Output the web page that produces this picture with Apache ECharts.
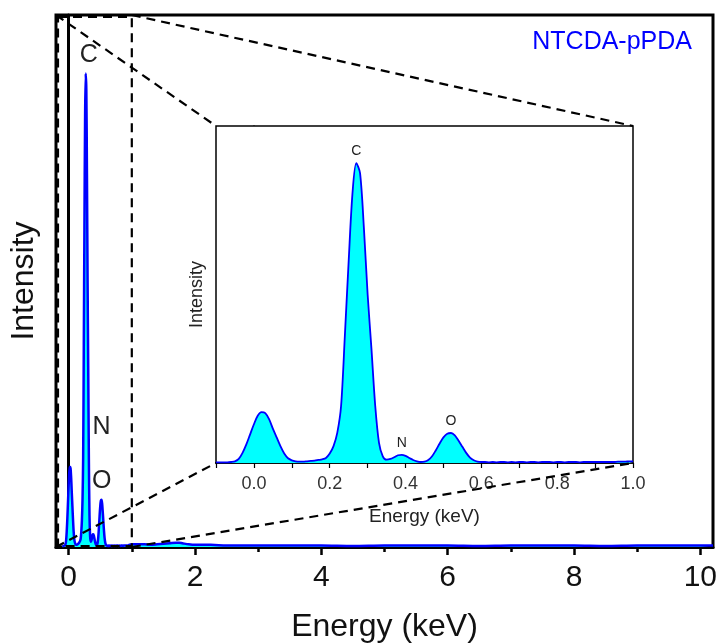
<!DOCTYPE html>
<html>

<head>
  <meta charset="UTF-8">
  <title>NTCDA-pPDA EDS</title>
  <script src="https://cdn.jsdelivr.net/npm/echarts@6/dist/echarts.min.js"></script>
</head>

<body style="margin:0;background:#fff">
  <div id="main" style="width: 717px;height:643px;"></div>
  <script type="text/javascript">
    // low-energy part of the spectrum (also shown in the inset)
    var energy = [-0.10, -0.09, -0.08, -0.07, -0.06, -0.05, -0.04, -0.03, -0.02, -0.01,
      0.00, 0.01, 0.02, 0.03, 0.04, 0.05, 0.06, 0.07, 0.08, 0.09,
      0.10, 0.11, 0.12, 0.13, 0.14, 0.15, 0.16, 0.17, 0.18, 0.19,
      0.20, 0.21, 0.22, 0.23, 0.24, 0.25, 0.26, 0.27, 0.28, 0.29,
      0.30, 0.31, 0.32, 0.33, 0.34, 0.35, 0.36, 0.37, 0.38, 0.39,
      0.40, 0.41, 0.42, 0.43, 0.44, 0.45, 0.46, 0.47, 0.48, 0.49,
      0.50, 0.51, 0.52, 0.53, 0.54, 0.55, 0.56, 0.57, 0.58, 0.59,
      0.60, 0.61, 0.62, 0.63, 0.64, 0.65, 0.66, 0.67, 0.68, 0.69,
      0.70, 0.71, 0.72, 0.73, 0.74, 0.75, 0.76, 0.77, 0.78, 0.79,
      0.80, 0.81, 0.82, 0.83, 0.84, 0.85, 0.86, 0.87, 0.88, 0.89,
      0.90, 0.91, 0.92, 0.93, 0.94, 0.95, 0.96, 0.97, 0.98, 0.99, 1.00];
    var intensity = [0.2, 0.2, 0.2, 0.2, 0.3, 0.5, 1.2, 3.0, 5.5, 8.5,
      11.5, 14.0, 15.1, 14.8, 13.0, 10.2, 7.6, 5.0, 2.8, 1.4,
      0.8, 0.5, 0.4, 0.4, 0.5, 0.6, 0.7, 0.9, 1.1, 1.5,
      2.8, 5.0, 9.0, 17, 38, 60, 80, 89, 86, 70,
      50, 34, 17, 6.0, 2.0, 1.0, 1.2, 1.7, 2.3, 2.4,
      2.1, 1.5, 0.9, 0.5, 0.3, 0.4, 0.9, 2.0, 3.8, 5.8,
      7.6, 8.7, 8.9, 8.2, 6.6, 4.8, 3.0, 1.6, 0.8, 0.4,
      0.3, 0.3, 0.2, 0.3, 0.2, 0.3, 0.3, 0.2, 0.3, 0.2,
      0.3, 0.3, 0.2, 0.3, 0.3, 0.2, 0.3, 0.3, 0.3, 0.2,
      0.3, 0.3, 0.2, 0.3, 0.3, 0.3, 0.2, 0.3, 0.3, 0.3,
      0.3, 0.3, 0.3, 0.3, 0.3, 0.3, 0.4, 0.4, 0.4, 0.5, 0.5];

    // rest of the spectrum up to 10 keV
    var energyHigh = [1.1, 1.2, 1.3, 1.4, 1.5, 1.6, 1.7, 1.75, 1.8, 1.9, 2.0, 2.25, 2.5, 2.75, 3.0,
      3.5, 4.0, 4.5, 5.0, 5.5, 6.0, 6.5, 7.0, 7.5, 8.0, 8.5, 9.0, 9.5, 10.0, 10.2];
    var intensityHigh = [0.5, 0.5, 0.4, 0.5, 0.6, 0.7, 0.8, 0.8, 0.7, 0.5, 0.4, 0.4, 0.3, 0.3, 0.3,
      0.3, 0.3, 0.2, 0.3, 0.3, 0.3, 0.2, 0.3, 0.3, 0.3, 0.2, 0.3, 0.3, 0.3, 0.3];

    var majorTicks = [0, 2, 4, 6, 8, 10];
    var minorTicks = [1, 3, 5, 7, 9];

    // element labels: [name, energy, intensity] anchor
    var mainLabels = [['C', 0.317, 92.5], ['N', 0.522, 22.6], ['O', 0.522, 12.4]];
    var insetLabels = [['C', 0.27, 89], ['N', 0.39, 2.4], ['O', 0.52, 8.9]];

    var zoomFrom = -0.2, zoomTo = 1.0;

    var lowData = energy.map(function (e, i) { return [e, intensity[i]]; });
    var allData = lowData.concat(energyHigh.map(function (e, i) { return [e, intensityHigh[i]]; }));

    var font = 'Liberation Sans, Arial, sans-serif';

    function markLabels(list, size, pos, dist) {
      return {
        symbol: 'circle',
        symbolSize: 1,
        itemStyle: { color: 'rgba(0,0,0,0)' },
        label: { show: true, position: pos, distance: dist, formatter: '{b}', fontSize: size, color: '#222', fontFamily: font },
        data: list.map(function (l) { return { name: l[0], coord: [l[1], l[2]] }; })
      };
    }

    var myChart = echarts.init(document.getElementById('main'));

    var option = {
      animation: false,
      backgroundColor: '#fff',
      title: {
        text: 'NTCDA-pPDA',
        right: 20,
        top: 25,
        textStyle: { color: '#0000ff', fontSize: 25, fontWeight: 'normal', fontFamily: font }
      },
      grid: [
        { left: 56, right: 4, top: 15, bottom: 96, show: true, borderColor: '#000', borderWidth: 3, outerBoundsMode: 'none' },
        { left: 216, right: 84, top: 126, bottom: 180, show: true, borderColor: '#000', borderWidth: 1.5, backgroundColor: '#fff', z: 3, outerBoundsMode: 'none' }
      ],
      xAxis: [
        {
          type: 'value', gridIndex: 0, min: zoomFrom, max: 10.2,
          name: 'Energy (keV)', nameLocation: 'middle', nameGap: 64,
          nameTextStyle: { fontSize: 32, color: '#111', fontFamily: font },
          axisLine: { lineStyle: { color: '#000', width: 3 } },
          axisTick: { customValues: majorTicks, length: 8, lineStyle: { color: '#000', width: 2.5 } },
          axisLabel: { customValues: majorTicks, margin: 16, fontSize: 30, color: '#111', fontFamily: font },
          splitLine: { show: false }
        },
        {
          type: 'value', gridIndex: 0, min: zoomFrom, max: 10.2, position: 'bottom',
          axisLine: { show: false },
          axisTick: { customValues: minorTicks, length: 5, lineStyle: { color: '#000', width: 2.5 } },
          axisLabel: { show: false },
          splitLine: { show: false }
        },
        {
          type: 'value', gridIndex: 1, min: -0.1, max: 1.0, interval: 0.1,
          name: 'Energy (keV)', nameLocation: 'middle', nameGap: 44,
          nameTextStyle: { fontSize: 19, color: '#222', fontFamily: font },
          axisLine: { lineStyle: { color: '#000', width: 1.5 } },
          axisTick: { length: 5, lineStyle: { color: '#000', width: 1.2 } },
          axisLabel: {
            margin: 12, fontSize: 18, color: '#333', fontFamily: font,
            formatter: function (v) {
              var k = Math.round(v * 10);
              return (k % 2 === 0) ? (k / 10).toFixed(1) : '';
            }
          },
          splitLine: { show: false }
        }
      ],
      yAxis: [
        {
          type: 'value', gridIndex: 0, min: 0, max: 100,
          name: 'Intensity', nameLocation: 'middle', nameGap: 16,
          nameTextStyle: { fontSize: 32, color: '#111', fontFamily: font },
          axisLine: { show: true, lineStyle: { color: '#000', width: 3 } },
          axisTick: { show: false }, axisLabel: { show: false }, splitLine: { show: false }
        },
        {
          type: 'value', gridIndex: 1, min: 0, max: 100,
          name: 'Intensity', nameLocation: 'middle', nameGap: 10,
          nameTextStyle: { fontSize: 18, color: '#222', fontFamily: font },
          axisLine: { show: true, lineStyle: { color: '#000', width: 1.5 } },
          axisTick: { show: false }, axisLabel: { show: false }, splitLine: { show: false }
        }
      ],
      series: [
        {
          name: 'main', type: 'line', xAxisIndex: 0, yAxisIndex: 0,
          data: allData, showSymbol: false, smooth: 0.3, clip: true,
          lineStyle: { color: '#0000ff', width: 2.5 },
          areaStyle: { color: '#00ffff', opacity: 1 },
          markPoint: markLabels(mainLabels, 25, 'inside', 0)
        },
        {
          name: 'inset', type: 'line', xAxisIndex: 2, yAxisIndex: 1, z: 5,
          data: lowData, showSymbol: false, smooth: 0.3, clip: true,
          lineStyle: { color: '#0000ff', width: 1.8 },
          areaStyle: { color: '#00ffff', opacity: 1 },
          markPoint: markLabels(insetLabels, 14, 'top', 4)
        }
      ]
    };

    myChart.setOption(option);

    // dashed zoom box and connector lines
    function px(xi, yi, x, y) {
      return myChart.convertToPixel({ xAxisIndex: xi, yAxisIndex: yi }, [x, y]);
    }
    var a = px(0, 0, zoomFrom, 100), b = px(0, 0, zoomTo, 100);
    var c = px(0, 0, zoomFrom, 0), d = px(0, 0, zoomTo, 0);
    var ia = px(2, 1, -0.1, 100), ib = px(2, 1, 1.0, 100);
    var ic = px(2, 1, -0.1, 0), id = px(2, 1, 1.0, 0);
    var dash = { stroke: '#000', lineWidth: 2.2, lineDash: [9, 6], fill: null };
    function seg(p, q) {
      return { type: 'line', z: 100, shape: { x1: p[0], y1: p[1], x2: q[0], y2: q[1] }, style: dash };
    }
    myChart.setOption({
      graphic: [
        { type: 'rect', z: 100, shape: { x: a[0] + 2, y: a[1] + 2, width: b[0] - a[0] - 2, height: c[1] - a[1] - 3 }, style: dash },
        seg(a, ia), seg(b, ib), seg(c, ic), seg(d, id)
      ]
    });
  </script>
</body>

</html>
